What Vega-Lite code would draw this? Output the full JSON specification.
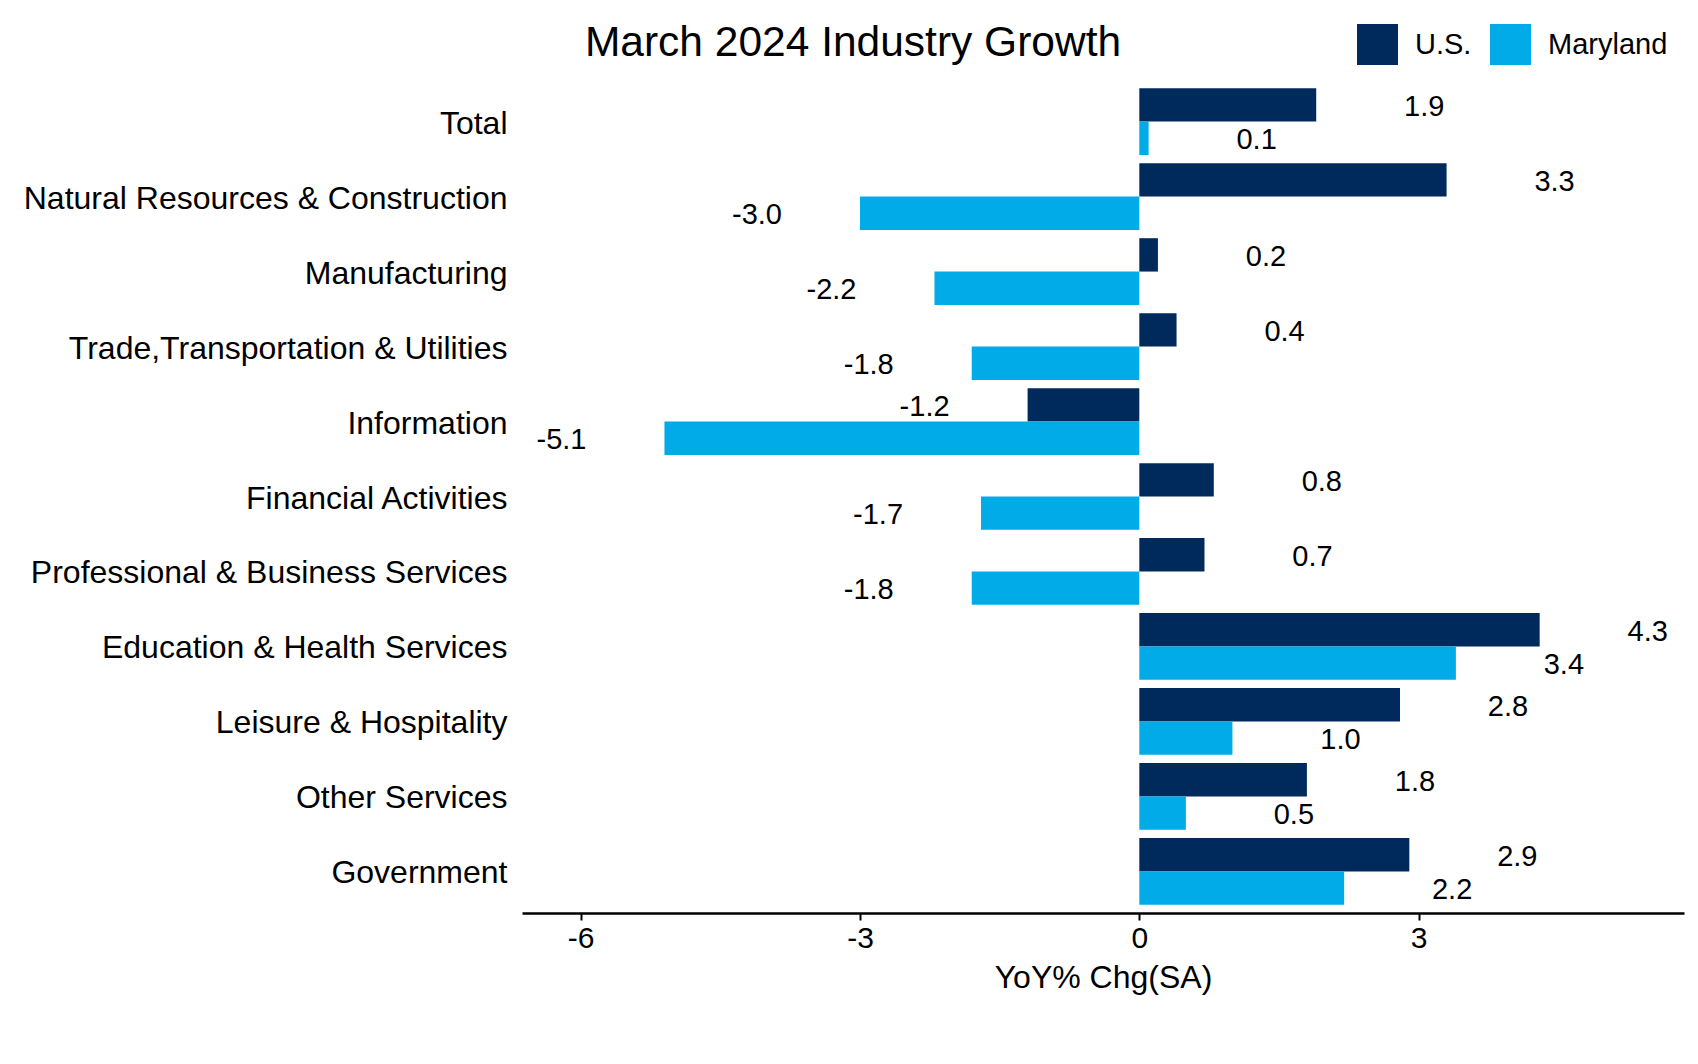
{
  "$schema": "https://vega.github.io/schema/vega-lite/v6.json",
  "width": 1162,
  "height": 833,
  "autosize": {"type": "none"},
  "padding": {"left": 522, "top": 80, "right": 14, "bottom": 151},
  "background": "white",
  "config": {
    "view": {"stroke": null},
    "font": "Liberation Sans",
    "locale": {
      "number": {"decimal": ".", "thousands": ",", "grouping": [3], "currency": ["$", ""], "minus": "-"}
    }
  },
  "title": {
    "text": "March 2024 Industry Growth",
    "fontSize": 42.5,
    "font": "Liberation Sans",
    "fontWeight": "normal",
    "color": "black",
    "anchor": "middle",
    "frame": "group",
    "dx": -250,
    "offset": -40
  },
  "data": {
    "values": [
      {"category": "Total", "series": "U.S.", "value": 1.9},
      {"category": "Total", "series": "Maryland", "value": 0.1},
      {"category": "Natural Resources & Construction", "series": "U.S.", "value": 3.3},
      {"category": "Natural Resources & Construction", "series": "Maryland", "value": -3.0},
      {"category": "Manufacturing", "series": "U.S.", "value": 0.2},
      {"category": "Manufacturing", "series": "Maryland", "value": -2.2},
      {"category": "Trade,Transportation & Utilities", "series": "U.S.", "value": 0.4},
      {"category": "Trade,Transportation & Utilities", "series": "Maryland", "value": -1.8},
      {"category": "Information", "series": "U.S.", "value": -1.2},
      {"category": "Information", "series": "Maryland", "value": -5.1},
      {"category": "Financial Activities", "series": "U.S.", "value": 0.8},
      {"category": "Financial Activities", "series": "Maryland", "value": -1.7},
      {"category": "Professional & Business Services", "series": "U.S.", "value": 0.7},
      {"category": "Professional & Business Services", "series": "Maryland", "value": -1.8},
      {"category": "Education & Health Services", "series": "U.S.", "value": 4.3},
      {"category": "Education & Health Services", "series": "Maryland", "value": 3.4},
      {"category": "Leisure & Hospitality", "series": "U.S.", "value": 2.8},
      {"category": "Leisure & Hospitality", "series": "Maryland", "value": 1.0},
      {"category": "Other Services", "series": "U.S.", "value": 1.8},
      {"category": "Other Services", "series": "Maryland", "value": 0.5},
      {"category": "Government", "series": "U.S.", "value": 2.9},
      {"category": "Government", "series": "Maryland", "value": 2.2}
    ]
  },
  "encoding": {
    "y": {
      "field": "category",
      "type": "nominal",
      "sort": null,
      "scale": {"paddingInner": 0.11, "paddingOuter": 0.11},
      "axis": {
        "title": null,
        "ticks": false,
        "domain": false,
        "labelFontSize": 32,
        "labelColor": "black",
        "labelPadding": 15,
        "labelOffset": 2,
        "labelLimit": 0
      }
    },
    "yOffset": {
      "field": "series",
      "type": "nominal",
      "sort": ["U.S.", "Maryland"],
      "scale": {"paddingInner": 0, "paddingOuter": 0}
    },
    "x": {
      "field": "value",
      "type": "quantitative",
      "scale": {"domain": [-6.63, 5.85], "nice": false, "zero": false},
      "axis": {
        "values": [-6, -3, 0, 3],
        "format": "d",
        "title": "YoY% Chg(SA)",
        "titleFontSize": 32,
        "titleFontWeight": "normal",
        "titleColor": "black",
        "titlePadding": 9,
        "labelFontSize": 30,
        "labelColor": "black",
        "labelPadding": 3,
        "domainColor": "black",
        "domainWidth": 2.5,
        "tickColor": "black",
        "tickSize": 7,
        "tickWidth": 2,
        "grid": false
      }
    }
  },
  "layer": [
    {
      "mark": {"type": "bar"},
      "encoding": {
        "color": {
          "field": "series",
          "type": "nominal",
          "scale": {"domain": ["U.S.", "Maryland"], "range": ["#002a5c", "#00abe7"]},
          "legend": {
            "orient": "none",
            "legendX": 835,
            "legendY": -56,
            "direction": "horizontal",
            "title": null,
            "symbolType": "square",
            "symbolSize": 1681,
            "symbolStrokeWidth": 0,
            "symbolOpacity": 1,
            "labelFontSize": 29,
            "labelColor": "black",
            "labelOffset": 17,
            "columnPadding": 18,
            "padding": 0
          }
        }
      }
    },
    {
      "transform": [{"filter": "datum.value >= 0"}],
      "mark": {"type": "text", "align": "center", "baseline": "middle", "dx": 108, "dy": 2, "fontSize": 29, "color": "black"},
      "encoding": {
        "text": {"field": "value", "type": "quantitative", "format": ".1f"}
      }
    },
    {
      "transform": [{"filter": "datum.value < 0"}],
      "mark": {"type": "text", "align": "center", "baseline": "middle", "dx": -103, "dy": 2, "fontSize": 29, "color": "black"},
      "encoding": {
        "text": {"field": "value", "type": "quantitative", "format": ".1f"}
      }
    }
  ]
}
